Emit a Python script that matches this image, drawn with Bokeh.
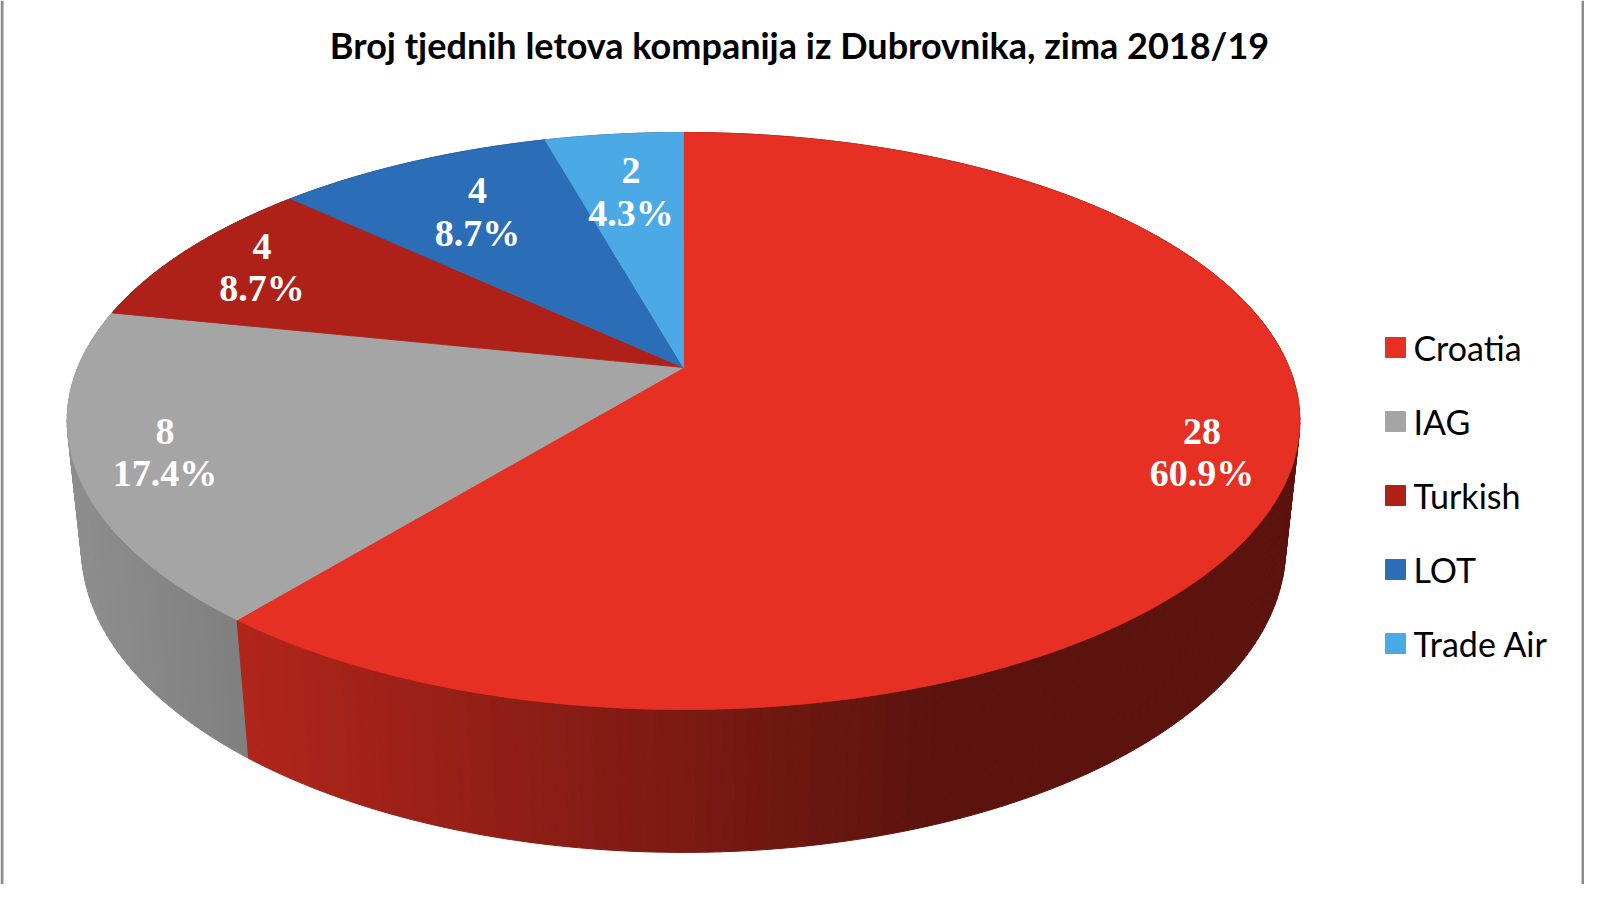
import numpy as np
from bokeh.plotting import figure
from bokeh.models import Range1d, Span
from bokeh.core.properties import value
from bokeh.embed import file_html
from bokeh.resources import INLINE

# ---- data ----
title = "Broj tjednih letova kompanija iz Dubrovnika, zima 2018/19"
airlines = ["Croatia", "IAG", "Turkish", "LOT", "Trade Air"]
flights = [28, 8, 4, 4, 2]
top_colors = ["#E53023", "#A5A5A5", "#AD2119", "#2B6DB6", "#4BA9E6"]

# ---- layout / projection constants ----
CX, CY = 683.0, 367.0          # screen position of pie centre (apex)
F, D = 2901.0, 4.79            # perspective focal / distance
C, S = 0.888, 0.460            # cos / sin of elevation
H = 0.237                      # pie thickness (radius = 1)
label_r = [0.86, 0.86, 0.84, 0.73, 0.72]


def project(X, Y, Z):
    X = np.asarray(X, float); Y = np.asarray(Y, float)
    u = Y * S + Z * C
    d = Y * C - Z * S
    return CX + F * X / (D + d), CY - F * u / (D + d)


def hex2rgb(h):
    h = h.lstrip("#")
    return [int(h[k:k + 2], 16) for k in (0, 2, 4)]


def shade(h, f):
    r, g, b = hex2rgb(h)
    return "#%02x%02x%02x" % tuple(max(0, min(255, int(round(c * f)))) for c in (r, g, b))


def wall_factor(sx):
    # horizontal light gradient of the side wall (lighter left, darker right)
    return float(np.clip(0.77 - 0.00053 * (sx - 240.0), 0.40, 1.0))


W, HT = 1584, 884
p = figure(width=W, height=HT, output_backend="svg", toolbar_location=None,
           x_range=Range1d(0, W), y_range=Range1d(HT, 0),
           min_border=0, outline_line_color=None, background_fill_color="white",
           border_fill_color="white")
p.axis.visible = False
p.grid.visible = False

total = float(sum(flights))
fracs = np.array(flights, float) / total
bounds = np.concatenate([[0.0], np.cumsum(fracs)]) * 2 * np.pi

# ---- side walls (painter's algorithm) ----
quads = []
for i in range(len(flights)):
    a0, a1 = bounds[i], bounds[i + 1]
    n = max(int(np.degrees(a1 - a0)), 2)
    al = np.linspace(a0, a1, n + 1)
    for j in range(n):
        aa = al[j:j + 2]
        X, Y = np.sin(aa), np.cos(aa)
        xt, yt = project(X, Y, 0.0)
        xb, yb = project(X, Y, -H)
        am = aa.mean()
        col = shade(top_colors[i], wall_factor(float(np.mean(xt))))
        depth = np.cos(am) * C
        quads.append((depth, [xt[0], xt[1], xb[1], xb[0]], [yt[0], yt[1], yb[1], yb[0]], col))
quads.sort(key=lambda q: -q[0])
p.patches(xs=[q[1] for q in quads], ys=[q[2] for q in quads],
          fill_color=[q[3] for q in quads], line_color=[q[3] for q in quads], line_width=1)

# ---- top faces ----
txs, tys = [], []
for i in range(len(flights)):
    a0, a1 = bounds[i], bounds[i + 1]
    n = max(int(np.degrees(a1 - a0)) * 2, 4)
    al = np.linspace(a0, a1, n + 1)
    x, y = project(np.sin(al), np.cos(al), 0.0)
    txs.append([CX] + list(x))
    tys.append([CY] + list(y))
p.patches(xs=txs, ys=tys, fill_color=top_colors, line_color=top_colors, line_width=0.8)

# ---- labels ----
mids = (bounds[:-1] + bounds[1:]) / 2
lx, ly = [], []
for i, m in enumerate(mids):
    x, y = project(label_r[i] * np.sin(m), label_r[i] * np.cos(m), 0.0)
    lx.append(float(x)); ly.append(float(y))
vals = [str(v) for v in flights]
pcts = ["%.1f%%" % (100 * f) for f in fracs]
common = dict(text_font=value("Liberation Serif"), text_font_style="bold",
              text_font_size="38px", text_color="white",
              text_align="center", text_baseline="middle")
p.text(x=lx, y=[v - 21 for v in ly], text=vals, **common)
p.text(x=lx, y=[v + 21 for v in ly], text=pcts, **common)

# ---- title ----
p.text(x=[799], y=[44], text=[title], text_font=value("Lato"), text_font_style="bold",
       text_font_size="36px", text_color="black", text_align="center", text_baseline="middle")

# ---- legend ----
leg_y = [347 + 74 * k for k in range(len(airlines))]
p.scatter(x=[1395] * len(airlines), y=leg_y, marker="square", size=20,
          fill_color=top_colors, line_color=top_colors)
p.text(x=[1413] * len(airlines), y=leg_y, text=airlines, text_font=value("Lato"),
       text_font_size="34px", text_color="black", text_align="left", text_baseline="middle")

# ---- frame borders ----
p.add_layout(Span(location=1.5, dimension="height", line_color="#8c8c8c", line_width=3))
p.add_layout(Span(location=W - 1.5, dimension="height", line_color="#8c8c8c", line_width=3))

open("out.html", "w").write(file_html(p, INLINE))
